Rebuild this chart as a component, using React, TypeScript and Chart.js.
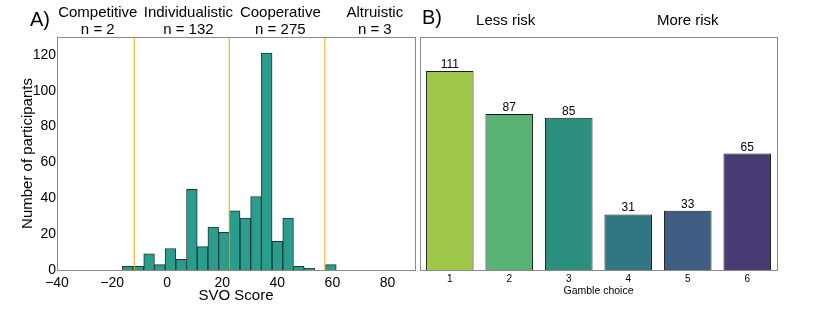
import React, { useEffect, useRef } from "react";
import { Chart, registerables } from "chart.js";
Chart.register(...registerables);

const FONT = "'Liberation Sans', Arial, Helvetica, sans-serif";

// ---------- Panel A: SVO histogram ----------
const svoBinCenters = [-14.32, -10.44, -6.56, -2.67, 1.21, 5.09, 8.98, 12.86, 16.74, 20.63, 24.51, 28.39, 32.27, 36.16, 40.04, 43.92, 47.81, 51.69, 55.57, 59.45];
const svoCounts = [2, 2, 9, 3, 12, 6, 45, 13, 24, 21, 33, 29, 41, 121, 16, 29, 2, 1, 0, 3];
const svoBoundaries = [-12.04, 22.45, 57.15];
const svoCategories = ["Competitive", "Individualistic", "Cooperative", "Altruistic"];
const svoCategoryN = [2, 132, 275, 3];
const svoCategoryLabelX = [-25.2, 7.7, 41.1, 75.4];

// ---------- Panel B: gamble choice ----------
const gambleChoices = ["1", "2", "3", "4", "5", "6"];
const gambleCounts = [111, 87, 85, 31, 33, 65];
const gambleColors = ["#9fc74a", "#58b273", "#2d8f7d", "#337683", "#3f5c82", "#483a72"];
const riskLabels = ["Less risk", "More risk"];
const riskLabelPos = [0.94, 4];

const minus = (v: number) => (v < 0 ? "\u2212" + Math.abs(v) : String(v));

const panelAPlugin = {
  id: "panelA",
  afterDatasetsDraw(chart: any) {
    const { ctx, chartArea: a, scales } = chart;
    const x = scales.x;
    ctx.save();
    ctx.strokeStyle = "#8a8a8a";
    ctx.lineWidth = 1;
    ctx.strokeRect(a.left + 0.5, a.top + 0.5, a.right - a.left, a.bottom - a.top);
    ctx.strokeStyle = "#f4ad1c";
    ctx.lineWidth = 1.1;
    svoBoundaries.forEach((v) => {
      const px = x.getPixelForValue(v) + 0.3;
      ctx.beginPath();
      ctx.moveTo(px, a.top + 1);
      ctx.lineTo(px, a.bottom);
      ctx.stroke();
    });
    ctx.fillStyle = "#000";
    ctx.font = `15px ${FONT}`;
    ctx.textAlign = "center";
    ctx.textBaseline = "alphabetic";
    svoCategories.forEach((c, i) => {
      const px = x.getPixelForValue(svoCategoryLabelX[i]);
      ctx.fillText(c, px, 17);
      ctx.fillText(`n = ${svoCategoryN[i]}`, px, 33.5);
    });
    ctx.font = `20px ${FONT}`;
    ctx.textAlign = "left";
    ctx.fillText("A)", 30, 26);
    ctx.restore();
  },
};

const panelBPlugin = {
  id: "panelB",
  afterDatasetsDraw(chart: any) {
    const { ctx, chartArea: a, scales } = chart;
    const x = scales.x;
    ctx.save();
    ctx.strokeStyle = "#8a8a8a";
    ctx.lineWidth = 1;
    ctx.strokeRect(a.left + 0.5, a.top + 0.5, a.right - a.left, a.bottom - a.top);
    ctx.fillStyle = "#000";
    ctx.font = `12px ${FONT}`;
    ctx.textAlign = "center";
    ctx.textBaseline = "alphabetic";
    const meta = chart.getDatasetMeta(0);
    meta.data.forEach((bar: any, i: number) => {
      ctx.fillText(String(gambleCounts[i]), bar.x, bar.y - 3);
    });
    ctx.font = `15px ${FONT}`;
    riskLabels.forEach((t, i) => {
      ctx.fillText(t, x.getPixelForValue(riskLabelPos[i]), 25);
    });
    ctx.font = `20px ${FONT}`;
    ctx.textAlign = "left";
    ctx.fillText("B)", 12, 24);
    ctx.restore();
  },
};

export default function App() {
  const refA = useRef<HTMLCanvasElement>(null);
  const refB = useRef<HTMLCanvasElement>(null);

  useEffect(() => {
    const chartA = new Chart(refA.current!, {
      type: "bar",
      data: {
        datasets: [
          {
            data: svoBinCenters.map((c, i) => ({ x: c, y: svoCounts[i] })),
            backgroundColor: "#2a9d8e",
            borderColor: "#1e3532",
            borderWidth: 1,
            barPercentage: 1,
            categoryPercentage: 1,
            grouped: false,
          } as any,
        ],
      },
      options: {
        animation: false,
        responsive: false,
        layout: { padding: { top: 37, right: 5, left: 0, bottom: 0 } },
        plugins: { legend: { display: false }, tooltip: { enabled: false } },
        scales: {
          x: {
            type: "linear",
            min: -40,
            max: 90,
            offset: false,
            grid: { display: false, drawTicks: false },
            border: { display: false },
            ticks: {
              stepSize: 20,
              includeBounds: false,
              padding: 5,
              color: "#000",
              font: { family: FONT, size: 14 },
              callback: (v: any) => minus(Number(v)),
              maxRotation: 0,
            },
            title: {
              display: true,
              text: "SVO Score",
              color: "#000",
              font: { family: FONT, size: 15 },
              padding: { top: 0, bottom: 5 },
            },
            afterFit: (s: any) => {
              s.height = 40;
            },
          },
          y: {
            min: 0,
            max: 130,
            grid: { display: false, drawTicks: false },
            border: { display: false },
            ticks: {
              stepSize: 20,
              includeBounds: false,
              padding: 1,
              color: "#000",
              font: { family: FONT, size: 14 },
            },
            title: {
              display: true,
              text: "Number of participants",
              color: "#000",
              font: { family: FONT, size: 15 },
              padding: { top: 19, bottom: 0 },
            },
            afterFit: (s: any) => {
              s.width = 57;
            },
          },
        },
      } as any,
      plugins: [panelAPlugin],
    });

    const chartB = new Chart(refB.current!, {
      type: "bar",
      data: {
        labels: gambleChoices,
        datasets: [
          {
            data: gambleCounts,
            backgroundColor: gambleColors,
            borderColor: "#1a1a1a",
            borderWidth: 1,
            barPercentage: 0.8,
            categoryPercentage: 1,
          },
        ],
      },
      options: {
        animation: false,
        responsive: false,
        layout: { padding: { top: 37, right: 53, left: 0, bottom: 0 } },
        plugins: { legend: { display: false }, tooltip: { enabled: false } },
        scales: {
          x: {
            grid: { display: false, drawTicks: false },
            border: { display: false },
            ticks: {
              padding: 3,
              color: "#000",
              font: { family: FONT, size: 10 },
              maxRotation: 0,
            },
            title: {
              display: true,
              text: "Gamble choice",
              color: "#000",
              font: { family: FONT, size: 10.5 },
              padding: { top: 0, bottom: 13 },
            },
            afterFit: (s: any) => {
              s.height = 40;
            },
          },
          y: {
            min: 0,
            max: 130,
            grid: { display: false, drawTicks: false },
            border: { display: false },
            ticks: { display: false },
            afterFit: (s: any) => {
              s.width = 10;
            },
          },
        },
      } as any,
      plugins: [panelBPlugin],
    });

    return () => {
      chartA.destroy();
      chartB.destroy();
    };
  }, []);

  return (
    <div
      style={{
        position: "fixed",
        left: 0,
        top: 0,
        width: 830,
        height: 310,
        background: "#fff",
      }}
    >
      <canvas
        ref={refA}
        width={420}
        height={310}
        style={{ position: "absolute", left: 0, top: 0, width: 420, height: 310 }}
      />
      <canvas
        ref={refB}
        width={420}
        height={310}
        style={{ position: "absolute", left: 410, top: 0, width: 420, height: 310 }}
      />
    </div>
  );
}
